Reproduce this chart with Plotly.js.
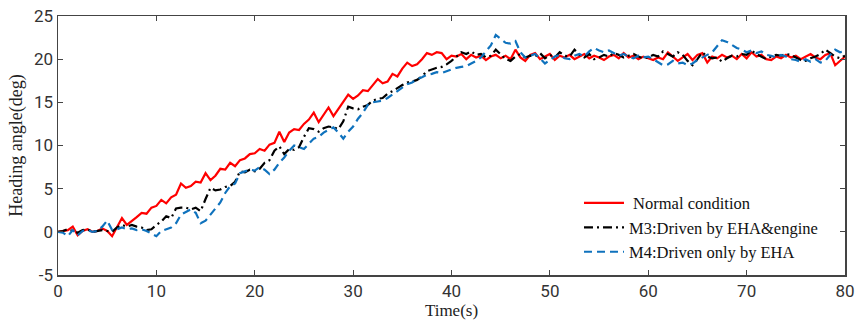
<!DOCTYPE html>
<html>
<head>
<meta charset="utf-8">
<script src="https://cdn.plot.ly/plotly-3.0.1.min.js"></script>
<style>html,body{margin:0;padding:0;background:#fff;}#chart{width:860px;height:323px;}</style>
</head>
<body>
<div id="chart"></div>
<script>
var dt = 0.5;
var seriesNames = [" Normal condition", "M3:Driven by EHA&engine", "M4:Driven only by EHA"];
var normal = [
 0.0, 0.1, 0.2, 0.6, -0.4, 0.1, 0.3, 0.0, 0.1, 0.4,
 0.1, -0.5, 0.5, 1.6, 0.8, 1.2, 1.7, 2.2, 2.1, 2.8,
 3.0, 3.7, 3.3, 4.0, 4.3, 5.6, 5.1, 5.3, 5.8, 5.7,
 6.8, 6.0, 6.5, 7.3, 7.2, 8.0, 7.6, 8.3, 8.5, 9.0,
 9.1, 9.6, 9.4, 10.1, 10.3, 11.6, 10.4, 11.5, 11.9, 11.8,
 12.5, 13.0, 13.8, 12.7, 13.5, 14.4, 13.4, 14.2, 15.0, 15.9,
 15.4, 15.8, 16.4, 16.3, 17.0, 17.7, 17.2, 17.4, 18.3, 18.0,
 18.9, 19.6, 19.2, 19.4, 20.0, 20.7, 20.5, 20.8, 20.7, 20.0,
 20.4, 20.3, 20.6, 20.0, 20.5, 20.2, 20.4, 19.9, 20.3, 20.5,
 20.1, 20.4, 20.0, 21.1, 20.2, 19.8, 20.5, 20.7, 20.0, 20.3,
 20.6, 19.9, 20.4, 20.2, 20.5, 20.0, 20.3, 20.6, 20.1, 20.4,
 20.2, 19.9, 20.3, 20.5, 20.1, 20.7, 20.2, 20.4, 20.0, 20.3,
 20.1, 19.9, 20.2, 20.0, 20.8, 20.3, 19.8, 20.2, 20.6, 19.9,
 20.5, 20.7, 19.6, 20.3, 20.1, 20.5, 20.2, 20.4, 20.0, 20.6,
 20.1, 20.8, 20.3, 20.5, 20.0, 19.9, 20.3, 20.1, 20.5, 20.2,
 20.4, 20.0, 20.3, 20.6, 20.2, 20.0, 20.5, 20.7, 19.3, 19.8,
 20.3
];
var m3 = [
 0.0, 0.1, 0.3, 0.1, -0.1, 0.2, 0.3, 0.0, 0.1, 0.2,
 0.1, 0.0, 0.5, 0.8, 0.6, 0.8, 0.6, 0.5, 0.2, 0.3,
 0.8, 1.2, 1.8, 1.6, 2.7, 2.8, 2.8, 2.6, 2.8, 2.4,
 3.8, 5.1, 4.8, 4.9, 5.2, 5.3, 5.8, 7.0, 6.9, 7.2,
 7.0, 7.3, 8.0, 8.3, 9.4, 9.9, 9.0, 9.6, 9.5, 9.8,
 11.0, 12.0, 11.9, 11.6, 12.0, 12.2, 12.1, 11.9, 12.8, 14.5,
 14.3, 14.2, 14.5, 14.7, 15.2, 15.4, 15.5, 16.0, 16.3, 16.7,
 17.0, 17.3, 17.4, 17.6, 18.0, 18.6, 18.8, 19.0, 19.1, 19.4,
 19.8, 20.3, 20.8, 20.6, 20.9, 20.5, 20.6, 20.2, 20.4, 21.1,
 20.5, 20.0, 19.8, 20.3, 20.6, 20.2, 20.4, 20.3, 20.7, 20.1,
 20.5, 20.2, 20.8, 20.4, 20.3, 21.1, 20.5, 20.2, 20.6, 20.0,
 20.2, 20.5, 20.3, 20.7, 20.5, 20.2, 20.4, 20.6, 20.3, 20.1,
 20.2, 20.5, 20.3, 20.9, 20.6, 20.3, 20.8, 20.5, 19.8, 19.3,
 20.0, 20.8, 20.3, 20.1, 20.2, 19.7, 20.1, 20.4, 20.3, 20.6,
 20.5, 21.0, 20.6, 20.3, 20.0, 20.3, 20.5, 20.4, 20.6, 20.5,
 20.2, 19.9, 19.8, 20.1, 20.3, 20.6, 21.1, 20.7, 20.3, 20.1,
 20.4
];
var m4 = [
 0.0, -0.1, -0.5, 0.2, -0.4, 0.1, 0.2, 0.0, 0.1, 0.6,
 1.3, 0.2, 0.3, 0.5, 0.3, 0.4, 0.2, 0.3, 0.1, -0.2,
 -0.5, 0.1, 0.3, 0.5, 1.0, 2.0, 2.3, 2.6, 2.2, 1.0,
 1.3, 2.0, 2.6, 3.4, 4.5, 5.3, 5.6, 6.8, 7.0, 7.2,
 7.1, 7.5, 7.2, 6.7, 7.2, 8.0, 8.6, 9.4, 10.0, 9.8,
 9.6, 10.2, 10.8, 11.0, 11.5, 11.8, 12.1, 11.5, 10.8, 11.6,
 12.2, 13.1, 13.8, 14.7, 15.0, 15.1, 15.2, 15.5, 15.9, 16.3,
 16.8, 17.1, 17.3, 17.7, 17.9, 18.2, 18.3, 18.5, 18.4, 18.6,
 18.8, 19.0, 19.1, 19.2, 19.5, 19.8, 20.2, 20.9, 21.6, 22.8,
 22.4, 21.9, 21.8, 22.1, 20.8, 20.2, 20.4, 20.6, 20.1, 19.5,
 19.9, 20.3, 20.5, 20.1, 20.0, 20.4, 20.6, 20.3, 20.9, 21.3,
 21.0, 20.8, 21.0, 20.7, 20.4, 20.6, 20.3, 20.1, 20.4, 20.2,
 20.3, 20.0, 19.6, 19.3, 19.4, 19.8, 19.5, 19.6, 19.3, 19.5,
 19.9, 20.2, 20.5, 20.8, 21.5, 22.2, 22.0, 21.6, 21.3, 21.1,
 20.8, 21.0, 20.7, 20.9, 20.5, 20.4, 20.2, 20.5, 20.3, 20.0,
 19.9, 19.7, 20.0, 19.7, 20.0, 19.6, 19.8, 20.5, 21.1, 20.8,
 20.9
];
var xTicks = [0, 10, 20, 30, 40, 50, 60, 70, 80];
var yTicks = [-5, 0, 5, 10, 15, 20, 25];

function times(arr) { return arr.map(function (_, i) { return i * dt; }); }

var traces = [
  {x: times(normal), y: normal, name: seriesNames[0], type: 'scatter', mode: 'lines',
   line: {color: '#ff0000', width: 2.2}},
  {x: times(m3), y: m3, name: seriesNames[1], type: 'scatter', mode: 'lines',
   line: {color: '#000000', width: 2.2, dash: '9px,4px,2px,4px'}},
  {x: times(m4), y: m4, name: seriesNames[2], type: 'scatter', mode: 'lines',
   line: {color: '#0f72bd', width: 2.2, dash: '8px,5px'}}
];

var serif = 'Liberation Serif, Times New Roman, serif';
var axisCommon = {
  showgrid: false, zeroline: false, showline: true, linecolor: '#444', linewidth: 1.5,
  mirror: 'ticks', ticks: 'inside', ticklen: 5, tickwidth: 1.2, tickcolor: '#444',
  tickfont: {family: 'Liberation Sans Narrow, Roboto, Arial, sans-serif', size: 17, color: '#333'}
};

var layout = {
  width: 860, height: 323,
  margin: {l: 58, r: 15, t: 16, b: 48},
  paper_bgcolor: '#fff', plot_bgcolor: '#fff',
  showlegend: true,
  xaxis: Object.assign({}, axisCommon, {
    range: [0, 80], tickvals: xTicks, ticktext: xTicks.map(String),
    title: {text: 'Time(s)', font: {family: serif, size: 17, color: '#222'}, standoff: 0}
  }),
  yaxis: Object.assign({}, axisCommon, {
    range: [-5, 25], tickvals: yTicks, ticktext: yTicks.map(String),
    title: {text: 'Heading angle(deg)', font: {family: serif, size: 18, color: '#222'}, standoff: 6}
  }),
  legend: {
    x: 0.662, y: 0.345, xanchor: 'left', yanchor: 'top',
    bgcolor: 'rgba(255,255,255,0)', borderwidth: 0,
    font: {family: serif, size: 16.5, color: '#111'},
    tracegroupgap: 0, itemwidth: 40
  }
};

Plotly.newPlot('chart', traces, layout, {displayModeBar: false, staticPlot: true});
</script>
</body>
</html>
